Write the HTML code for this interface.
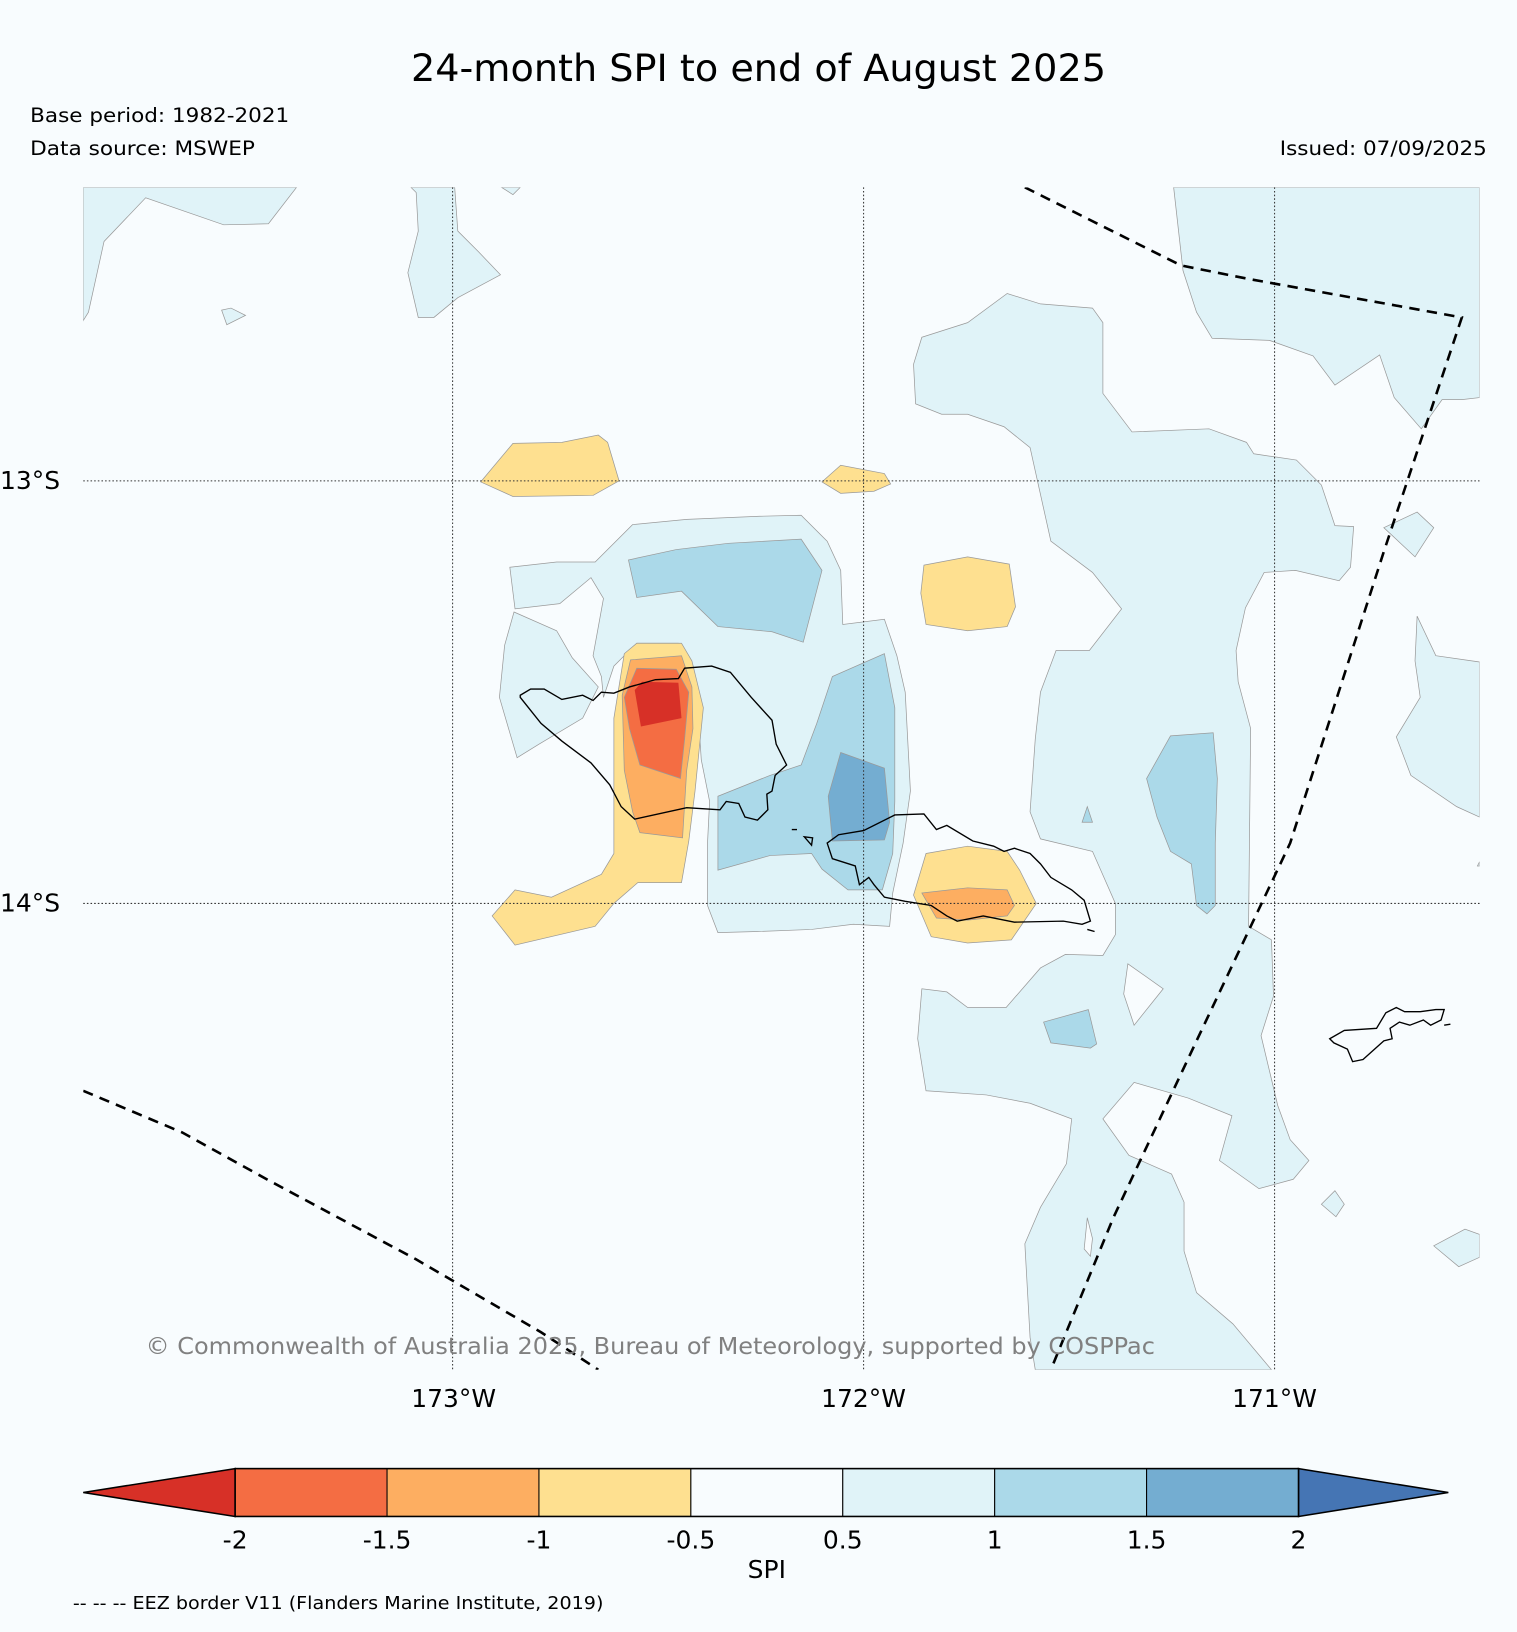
<!DOCTYPE html>
<html><head><meta charset="utf-8"><style>
html,body{margin:0;padding:0;background:#f8fcfe;}
svg{display:block;font-family:"DejaVu Sans","Liberation Sans",sans-serif;}
</style></head><body>
<svg id="chart" width="1517" height="1632" viewBox="0 0 1458 1568" preserveAspectRatio="none" xmlns="http://www.w3.org/2000/svg">
<rect x="0" y="0" width="1458" height="1568" fill="#f8fcfe"/>
<text x="395" y="78" font-size="36" textLength="668" lengthAdjust="spacingAndGlyphs">24-month SPI to end of August 2025</text>
<text x="29" y="117" font-size="19" textLength="249" lengthAdjust="spacingAndGlyphs">Base period: 1982-2021</text>
<text x="29" y="149" font-size="19" textLength="216" lengthAdjust="spacingAndGlyphs">Data source: MSWEP</text>
<text x="1230" y="149" font-size="19" textLength="199" lengthAdjust="spacingAndGlyphs">Issued: 07/09/2025</text>

<g>
<clipPath id="mc"><rect x="80" y="180" width="1342" height="1136"/></clipPath>
<g clip-path="url(#mc)" stroke="#999" stroke-width="0.7">
<g fill="#e0f3f8">
<polygon points="80,180 285,180 258,215 215,216 140,190 100,232 85,300 80,308"/>
<polygon points="395,180 400,185 402,222 392,262 402,305 417,305 440,286 481,264 460,242 440,222 437,180"/>
<polygon points="482,180 500,180 493,187"/>
<polygon points="213,298 222,296 236,303 218,312"/>
<polygon points="1128,180 1422,180 1422,382 1405,384 1386,384 1366,412 1340,382 1326,341 1283,370 1262,342 1220,327 1165,325 1150,300 1137,260"/>
<polygon points="886,324 930,310 968,282 1000,292 1050,296 1060,310 1060,378 1088,415 1162,412 1198,425 1205,436 1246,442 1270,466 1283,505 1301,506 1298,545 1287,558 1245,548 1215,550 1197,584 1188,625 1190,655 1202,700 1200,890 1222,903 1224,957 1212,995 1228,1062 1240,1095 1258,1115 1243,1133 1210,1142 1172,1115 1184,1072 1142,1055 1090,1040 1060,1075 1085,1110 1126,1128 1138,1155 1138,1202 1150,1242 1185,1272 1222,1316 995,1316 990,1285 985,1195 1000,1160 1025,1118 1030,1075 990,1060 948,1052 890,1048 882,998 886,950 910,953 930,968 967,968 1000,930 1024,917 1060,918 1072,898 1072,868 1050,818 1000,806 990,780 995,710 1000,665 1015,625 1047,625 1078,585 1050,550 1010,520 990,430 965,410 930,398 905,398 880,388 878,350"/>
<polygon points="1330,507 1362,492 1378,507 1360,535"/>
<polygon points="1362,592 1380,630 1422,636 1422,785 1400,775 1356,745 1342,708 1365,670 1360,635"/>
<polygon points="1420,832 1422,828 1422,832"/>
<polygon points="1270,1157 1283,1144 1292,1157 1284,1169"/>
<polygon points="1378,1197 1408,1181 1422,1186 1422,1208 1402,1217"/>
<polygon points="490,545 535,540 572,540 608,504 660,499 730,496 770,495 795,520 808,548 810,600 850,595 862,630 870,665 875,760 868,810 858,858 855,890 820,888 780,893 728,895 690,896 680,870 680,810 682,770 674,730 672,700 670,680 660,640 652,618 612,618 590,640 580,670 578,650 570,630 580,575 568,555 538,580 495,585"/>
<polygon points="494,588 535,606 550,632 575,660 560,690 518,715 497,728 480,670 485,620"/>
</g>
<g fill="#f8fcfe">
<polygon points="1084,926 1118,950 1090,985 1080,955"/>
<polygon points="1045,1170 1050,1190 1048,1207 1042,1200"/>
</g>
<g fill="#abd9e9">
<polygon points="604,538 650,528 700,522 770,518 790,548 772,617 742,607 690,602 655,568 612,574"/>
<polygon points="690,765 740,745 770,735 785,695 800,650 850,628 860,680 860,770 858,820 848,855 815,855 790,835 780,820 740,822 690,836"/>
<polygon points="1102,748 1125,707 1166,704 1170,748 1168,810 1168,870 1160,878 1150,870 1145,830 1125,818 1112,785"/>
<polygon points="1003,982 1046,970 1054,1003 1048,1007 1010,1002"/>
<polygon points="1040,790 1045,775 1050,790"/>
</g>
<g fill="#74add1">
<polygon points="808,723 850,738 855,790 850,807 800,808 796,765"/>
</g>
<g fill="#fee090">
<polygon points="462,463 493,426 540,425 575,418 584,425 595,462 570,476 493,477"/>
<polygon points="790,463 808,447 850,455 856,465 840,472 808,474"/>
<polygon points="888,543 930,535 970,542 976,583 968,602 930,606 890,600 885,570"/>
<polygon points="590,690 600,628 612,618 655,618 665,635 676,680 672,720 668,760 662,808 655,848 613,848 590,868 572,890 495,908 473,880 495,855 530,862 578,840 590,820"/>
<polygon points="878,860 890,820 930,813 968,818 980,836 996,868 972,903 930,906 895,900"/>
</g>
<g fill="#fdae61">
<polygon points="598,668 606,634 655,630 665,660 666,700 660,740 656,805 615,800 608,780 600,740"/>
<polygon points="886,858 930,853 968,855 975,870 968,880 930,884 900,882"/>
</g>
<g fill="#f46d43">
<polygon points="600,670 612,642 650,643 662,665 658,710 654,748 615,735 605,700"/>
</g>
<g fill="#d73027" stroke="none">
<polygon points="610,663 617,655 652,656 655,690 616,698"/>
</g>
</g>
<g stroke="#333" stroke-width="1" stroke-dasharray="1.5,2">
<line x1="435" y1="180" x2="435" y2="1316"/>
<line x1="830" y1="180" x2="830" y2="1316"/>
<line x1="1225" y1="180" x2="1225" y2="1316"/>
<line x1="80" y1="462" x2="1422" y2="462"/>
<line x1="80" y1="868" x2="1422" y2="868"/>
</g>
<g fill="none" stroke="#000" stroke-width="1.3" clip-path="url(#mc)">
<path d="M500,668 L510,662 L523,662 L540,672 L560,668 L570,673 L578,665 L590,666 L605,660 L630,653 L652,652 L658,642 L684,640 L702,646 L722,670 L742,692 L746,715 L756,735 L745,745 L742,760 L737,763 L738,778 L728,788 L716,785 L710,772 L698,770 L692,778 L660,776 L610,787 L597,775 L586,754 L568,733 L540,712 L520,695 L500,670 Z"/>
<path d="M761,797 L766,797 M773,804 L781,805 L780,812 Z"/>
<path d="M795,810 L806,802 L830,798 L860,783 L888,782 L900,797 L910,793 L935,808 L955,813 L965,818 L975,815 L990,820 L1000,830 L1010,843 L1030,855 L1042,865 L1048,885 L1040,888 L1022,885 L975,886 L945,880 L920,885 L910,880 L895,870 L870,866 L850,862 L840,850 L835,843 L826,850 L822,832 L800,825 Z M1045,893 L1052,895"/>
<path d="M1278,998 L1292,990 L1323,988 L1332,973 L1342,968 L1350,972 L1365,972 L1380,970 L1388,970 L1385,980 L1375,985 L1368,980 L1355,985 L1345,982 L1336,988 L1338,998 L1330,1000 L1310,1018 L1300,1020 L1295,1008 L1282,1002 Z M1388,985 L1394,984"/>
</g>
<g fill="none" stroke="#000" stroke-width="2.5" stroke-dasharray="10,7" clip-path="url(#mc)">
<path d="M985,180 L1135,255 L1200,268 L1405,305 L1330,530 L1240,810 L1150,1000 L1070,1170 L1010,1316"/>
<path d="M80,1048 L175,1088 L260,1135 L400,1210 L520,1280 L575,1316"/>
</g>
<text x="140" y="1301" font-size="22" fill="#808080" textLength="970" lengthAdjust="spacingAndGlyphs">© Commonwealth of Australia 2025, Bureau of Meteorology, supported by COSPPac</text>
</g>
<g font-size="24">
<text x="0" y="470">13°S</text>
<text x="0" y="876">14°S</text>
<text x="436" y="1352" text-anchor="middle">173°W</text>
<text x="830" y="1352" text-anchor="middle">172°W</text>
<text x="1225" y="1352" text-anchor="middle">171°W</text>
</g>
<g id="cbar"></g>
<text x="737" y="1516" font-size="24" text-anchor="middle">SPI</text>
<text x="70" y="1546" font-size="17" textLength="510" lengthAdjust="spacingAndGlyphs">-- -- -- EEZ border V11 (Flanders Marine Institute, 2019)</text>
</svg>
<script>
const levels = [-2, -1.5, -1, -0.5, 0.5, 1, 1.5, 2];
const tickLabels = ["-2", "-1.5", "-1", "-0.5", "0.5", "1", "1.5", "2"];
const binColors = ["#f46d43", "#fdae61", "#fee090", "#f8fcfe", "#e0f3f8", "#abd9e9", "#74add1"];
const underColor = "#d73027";
const overColor = "#4575b4";

const NS = "http://www.w3.org/2000/svg";
const g = document.getElementById("cbar");
const cbX0 = 226, cbStep = 146, cbTop = 1411, cbBot = 1457, tipL = 80, tipR = 1392;
function xOf(i) { return cbX0 + i * cbStep; }
const mid = (cbTop + cbBot) / 2;
function mk(tag, attrs) { const e = document.createElementNS(NS, tag); for (const k in attrs) e.setAttribute(k, attrs[k]); g.appendChild(e); return e; }
const under = mk("polygon", { points: `${xOf(0)},${cbTop} ${tipL},${mid} ${xOf(0)},${cbBot}`, fill: underColor, stroke: "#000", "stroke-width": 1.5 });


const last = levels.length - 1;
const over = mk("polygon", { points: `${xOf(last)},${cbTop} ${tipR},${mid} ${xOf(last)},${cbBot}`, fill: overColor, stroke: "#000", "stroke-width": 1.5 });


for (let i = 0; i < binColors.length; i++) {
  const r = mk("rect", { x: xOf(i), y: cbTop, width: cbStep, height: cbBot - cbTop, fill: binColors[i], stroke: "#000", "stroke-width": 1 });
  
  
}
mk("rect", { x: xOf(0), y: cbTop, width: cbStep * binColors.length, height: cbBot - cbTop, fill: "none", stroke: "#000", "stroke-width": 1.5 });
for (let i = 0; i < levels.length; i++) {
  const t = mk("text", { x: xOf(i), y: 1488, "font-size": 24, "text-anchor": "middle" });
  t.textContent = tickLabels[i];
  
  
}
</script>
</body></html>
